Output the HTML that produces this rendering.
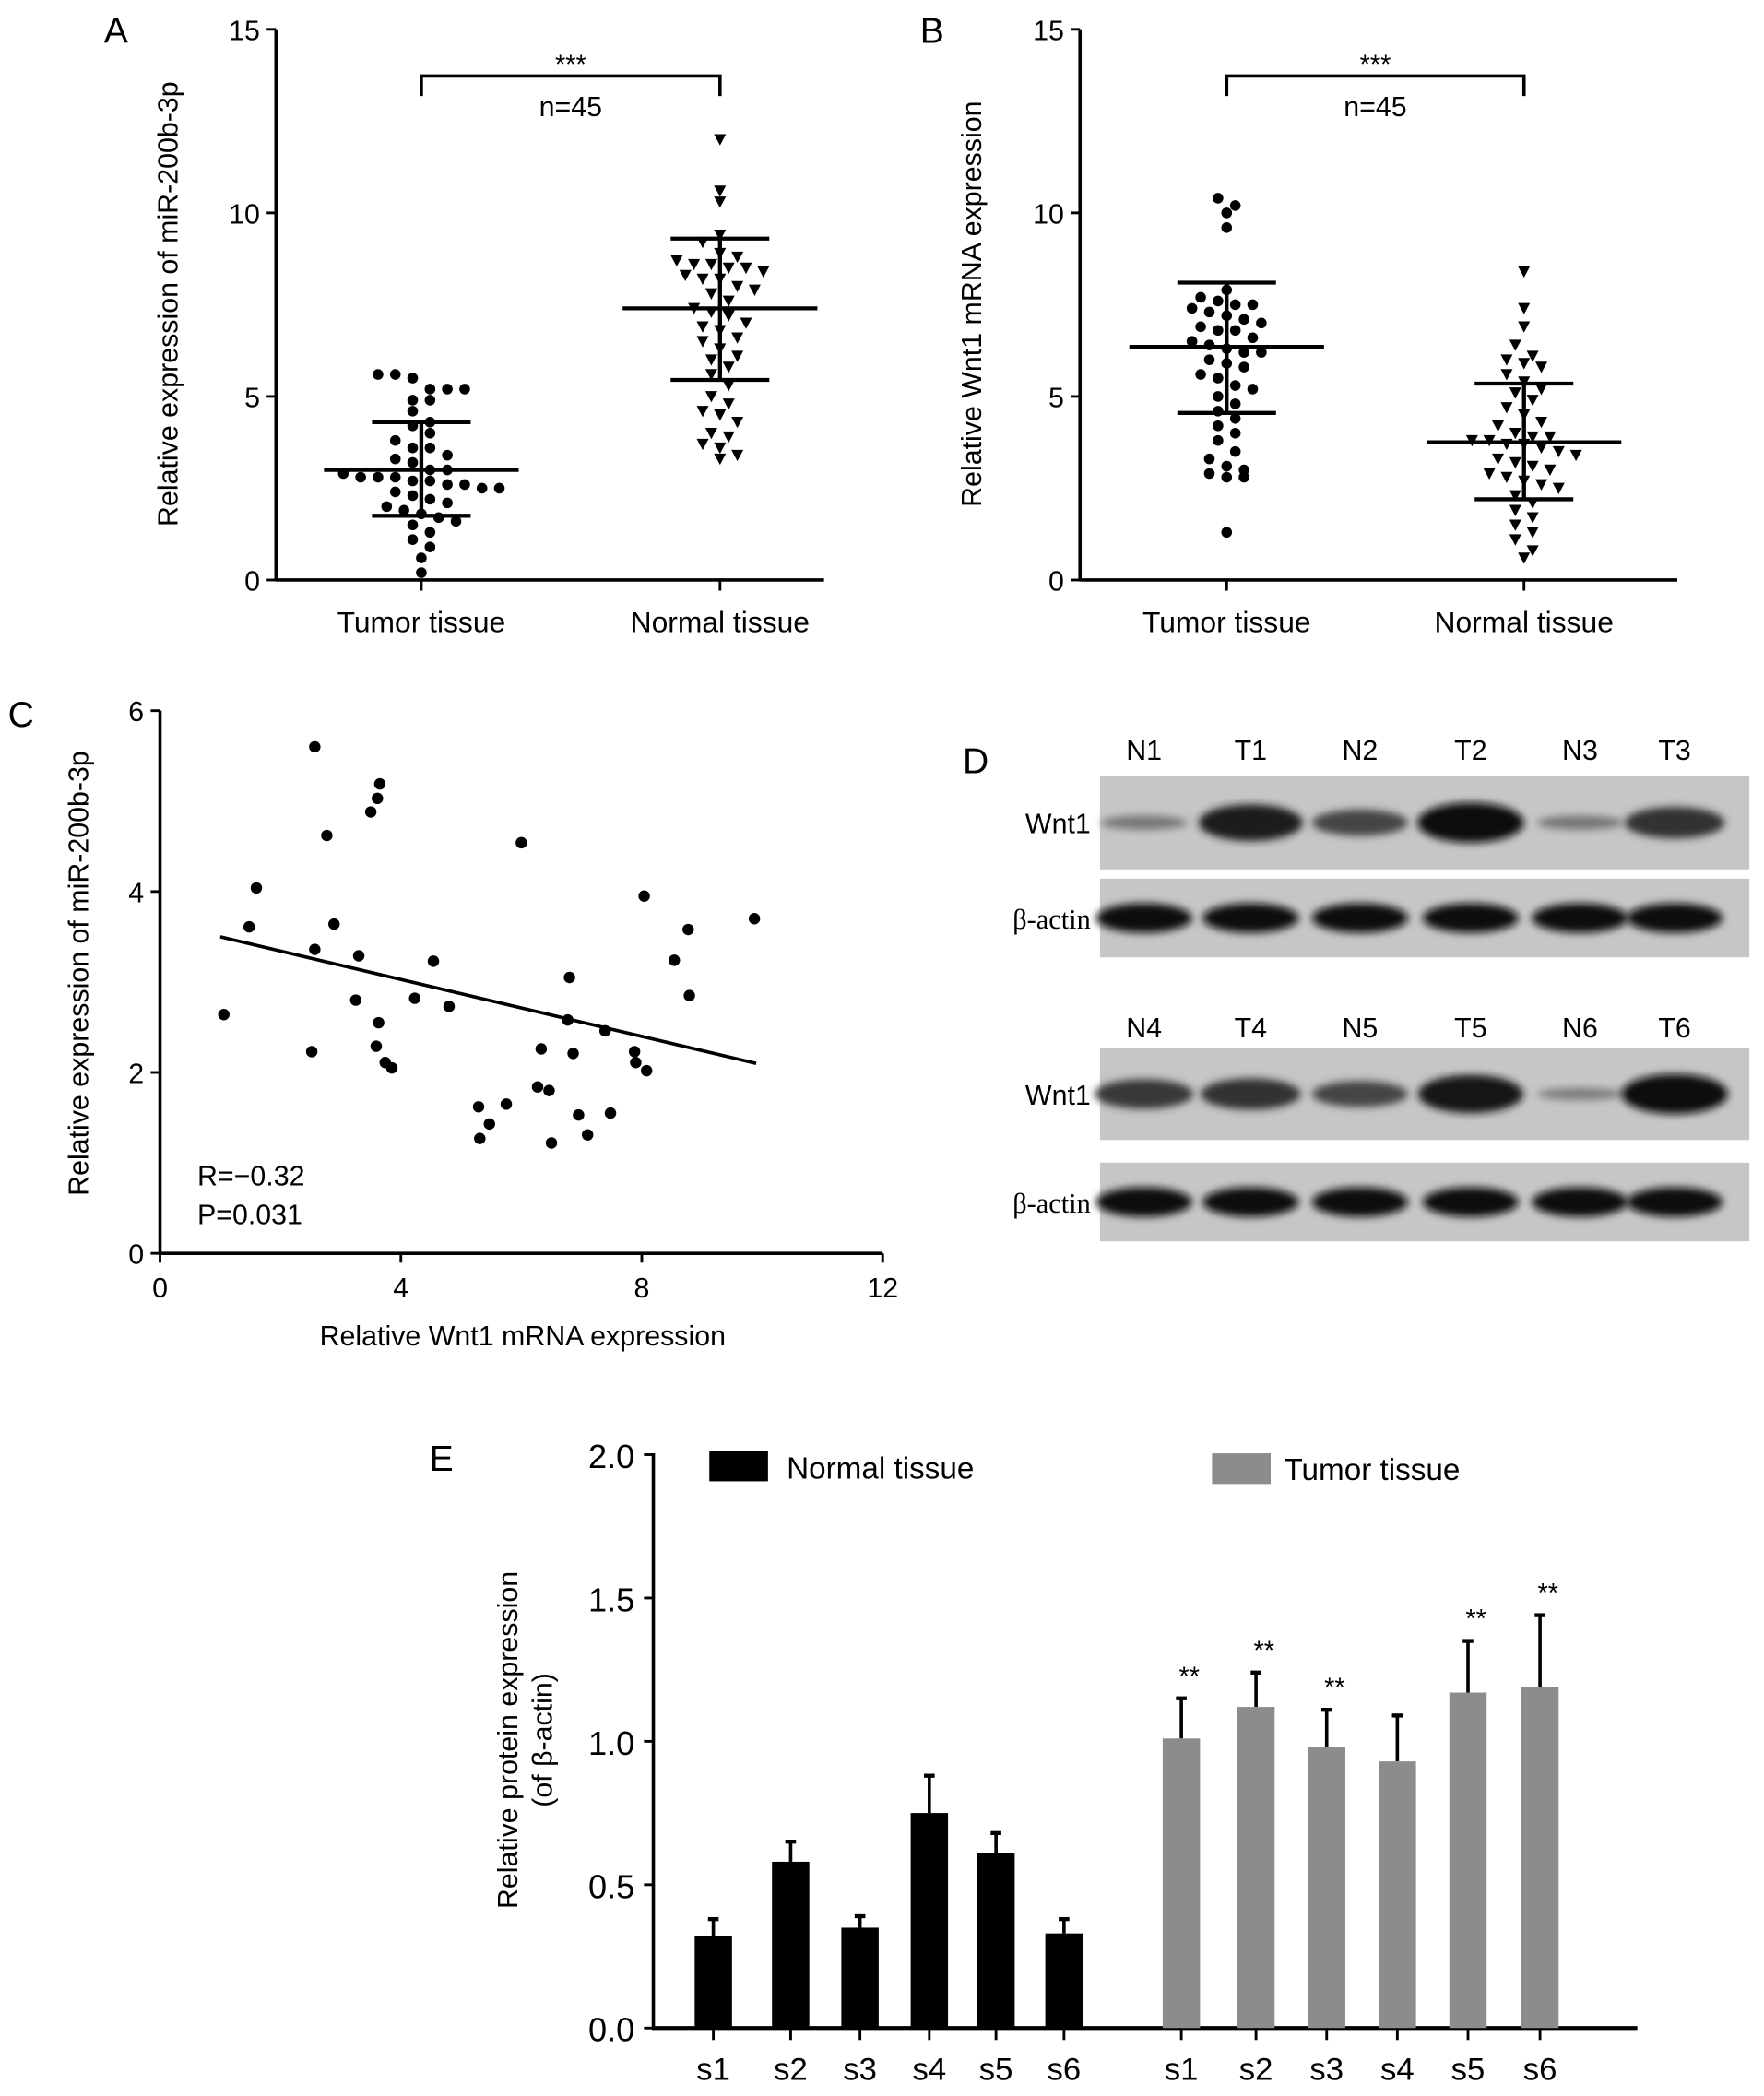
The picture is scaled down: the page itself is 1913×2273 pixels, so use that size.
<!DOCTYPE html>
<html><head><meta charset="utf-8"><style>
html,body{margin:0;padding:0;background:#fff;}
svg{display:block;font-family:"Liberation Sans",sans-serif;}
</style></head><body>
<svg id="fig" width="1913" height="2273" viewBox="0 0 1323 1572" preserveAspectRatio="none">
<defs><filter id="blur" x="-20%" y="-50%" width="140%" height="200%"><feGaussianBlur stdDeviation="3"/></filter></defs>
<g id="A"></g>
<g id="B"></g>
<g id="C"></g>
<g id="D"></g>
<g id="E"></g>
</svg>
<script>
// ---------- data ----------
const aTumor=[5.6,5.6,5.5,5.2,5.2,5.2,4.9,4.9,4.6,4.3,4.2,4.0,3.8,3.6,3.6,3.4,3.3,3.2,3.0,3.0,2.9,2.8,2.8,2.8,2.7,2.7,2.6,2.6,2.5,2.5,2.4,2.3,2.2,2.1,2.0,1.9,1.8,1.7,1.6,1.5,1.3,1.1,0.9,0.6,0.2];
const aNormal=[12.0,10.6,10.3,9.4,9.2,8.9,8.8,8.7,8.6,8.6,8.5,8.5,8.4,8.3,8.2,8.2,8.0,7.9,7.8,7.6,7.4,7.3,7.2,7.0,6.9,6.8,6.6,6.5,6.3,6.1,6.0,5.8,5.6,5.3,5.0,4.8,4.6,4.5,4.3,4.0,3.9,3.7,3.6,3.4,3.3];
const aStats=[[3.0,4.3,1.75],[7.4,9.3,5.45]];
const bTumor=[10.4,10.2,10.0,9.6,7.9,7.7,7.6,7.5,7.5,7.4,7.3,7.2,7.1,7.0,6.9,6.8,6.8,6.6,6.5,6.4,6.3,6.2,6.2,6.0,5.9,5.8,5.6,5.5,5.3,5.2,5.0,4.8,4.6,4.4,4.2,4.0,3.8,3.5,3.3,3.1,3.0,2.9,2.8,2.8,1.3];
const bNormal=[8.4,7.4,6.9,6.4,6.1,6.0,5.9,5.8,5.6,5.4,5.2,5.1,4.9,4.7,4.5,4.3,4.2,4.0,3.9,3.9,3.8,3.8,3.7,3.7,3.6,3.5,3.4,3.3,3.2,3.1,3.0,2.9,2.8,2.7,2.6,2.5,2.3,2.1,1.9,1.7,1.5,1.3,1.1,0.8,0.6];
const bStats=[[6.35,8.1,4.55],[3.75,5.35,2.2]];
const groupLabels=["Tumor tissue","Normal tissue"];
const yTicksAB=[0,5,10,15];
const cX=[1.06,1.6,1.48,2.57,2.77,2.57,2.89,2.52,3.5,3.61,3.65,3.3,3.25,3.63,3.59,3.74,3.85,4.23,4.54,4.8,6.0,5.75,5.29,5.47,5.31,6.27,6.33,6.46,6.5,6.8,6.77,6.86,6.95,7.1,7.48,7.39,7.88,7.9,8.08,8.04,8.54,8.77,8.79,9.87];
const cY=[2.64,4.04,3.61,5.6,4.62,3.36,3.64,2.23,4.88,5.03,5.19,3.29,2.8,2.55,2.29,2.11,2.05,2.82,3.23,2.73,4.54,1.65,1.62,1.43,1.27,1.84,2.26,1.8,1.22,3.05,2.58,2.21,1.53,1.31,1.55,2.46,2.23,2.11,2.02,3.95,3.24,3.58,2.85,3.7];
const cFit=[[1.0,3.5],[9.9,2.1]];
const cXTicks=[0,4,8,12];
const cYTicks=[0,2,4,6];
const eCats=["s1","s2","s3","s4","s5","s6"];
const eNormal=[0.32,0.58,0.35,0.75,0.61,0.33];
const eNormalErr=[0.06,0.07,0.04,0.13,0.07,0.05];
const eTumor=[1.01,1.12,0.98,0.93,1.17,1.19];
const eTumorErr=[0.14,0.12,0.13,0.16,0.18,0.25];
const eSig=[true,true,true,false,true,true];
const eYTicks=[0,0.5,1.0,1.5,2.0];
const blotLanes=["N1","T1","N2","T2","N3","T3"];
const blotLanes2=["N4","T4","N5","T5","N6","T6"];
const wnt1A=[0.25,0.9,0.6,1.0,0.25,0.75];
const wnt1B=[0.7,0.75,0.6,0.95,0.2,1.0];
const NS="http://www.w3.org/2000/svg";
function mk(p,tag,attrs,text){const e=document.createElementNS(NS,tag);for(const k in attrs)e.setAttribute(k,attrs[k]);if(text!==undefined)e.textContent=text;p.appendChild(e);return e;}

// ---------- scatter panels A/B ----------
function dotPanel(g,letter,lx,ax,xEnd,catX,series,stats,title,tri){
  const y=v=>435-v*(413/15);
  let e;
  e=mk(g,'text',{x:lx,y:32,'font-size':27},letter);
  
  
  e=mk(g,'line',{x1:ax,y1:22,x2:ax,y2:436,stroke:'#000','stroke-width':2.5});
  
  
  e=mk(g,'line',{x1:ax,y1:435,x2:xEnd,y2:435,stroke:'#000','stroke-width':2.5});
  
  
  yTicksAB.forEach(t=>{
    e=mk(g,'line',{x1:ax-7,y1:y(t),x2:ax,y2:y(t),stroke:'#000','stroke-width':2});
    
    
    e=mk(g,'text',{x:ax-12,y:y(t)+8,'font-size':21,'text-anchor':'end'},t);
    
    
  });
  e=mk(g,'text',{transform:`translate(${ax-74},228) rotate(-90)`,'font-size':21,'text-anchor':'middle'},title);
  
  
  catX.forEach((cx,i)=>{
    e=mk(g,'line',{x1:cx,y1:435,x2:cx,y2:443,stroke:'#000','stroke-width':2});
    
    
    e=mk(g,'text',{x:cx,y:474,'font-size':22,'text-anchor':'middle'},groupLabels[i]);
    
    
    const vals=series[i];const bins={};
    vals.forEach(v=>{const k=Math.round(v/0.45);(bins[k]=bins[k]||[]).push(v);});
    Object.keys(bins).forEach(k=>{
      const arr=bins[k];arr.forEach((v,j)=>{
        const off=(j-(arr.length-1)/2)*13;
        const px=cx+off,py=y(v);
        if(tri[i]) e=mk(g,'path',{d:`M${px-4.5},${py-4} L${px+4.5},${py-4} L${px},${py+4.5}Z`,fill:'#000'});
        else e=mk(g,'circle',{cx:px,cy:py,r:4,fill:'#000'});
        
        
      });
    });
    const [m,hi,lo]=stats[i];
    e=mk(g,'line',{x1:cx-73,y1:y(m),x2:cx+73,y2:y(m),stroke:'#000','stroke-width':3});
    
    
    e=mk(g,'line',{x1:cx,y1:y(hi),x2:cx,y2:y(lo),stroke:'#000','stroke-width':3});
    
    
    [hi,lo].forEach(v=>{
      e=mk(g,'line',{x1:cx-37,y1:y(v),x2:cx+37,y2:y(v),stroke:'#000','stroke-width':3});
      
      
    });
  });
  e=mk(g,'path',{d:`M${catX[0]},72 V57 H${catX[1]} V72`,fill:'none',stroke:'#000','stroke-width':2.5});
  
  
  const mid=(catX[0]+catX[1])/2;
  e=mk(g,'text',{x:mid,y:55,'font-size':20,'text-anchor':'middle'},'***');
  
  
  e=mk(g,'text',{x:mid,y:87,'font-size':21,'text-anchor':'middle'},'n=45');
  
  
}
dotPanel(document.getElementById('A'),'A',78,207,618,[316,540],[aTumor,aNormal],aStats,'Relative expression of miR-200b-3p',[false,true]);
dotPanel(document.getElementById('B'),'B',690,810,1258,[920,1143],[bTumor,bNormal],bStats,'Relative Wnt1 mRNA expression',[false,true]);

// ---------- panel C ----------
(function(){
  const g=document.getElementById('C');let e;
  const x=v=>120+v*(542/12), y=v=>940-v*(407/6);
  e=mk(g,'text',{x:6,y:545,'font-size':27},'C');
  
  
  e=mk(g,'line',{x1:120,y1:533,x2:120,y2:941,stroke:'#000','stroke-width':2.5});
  
  
  e=mk(g,'line',{x1:119,y1:940,x2:662,y2:940,stroke:'#000','stroke-width':2.5});
  
  
  cYTicks.forEach(t=>{
    e=mk(g,'line',{x1:113,y1:y(t),x2:120,y2:y(t),stroke:'#000','stroke-width':2});
    
    
    e=mk(g,'text',{x:108,y:y(t)+8,'font-size':21,'text-anchor':'end'},t);
    
    
  });
  cXTicks.forEach(t=>{
    e=mk(g,'line',{x1:x(t),y1:940,x2:x(t),y2:947,stroke:'#000','stroke-width':2});
    
    
    e=mk(g,'text',{x:x(t),y:973,'font-size':21,'text-anchor':'middle'},t);
    
    
  });
  e=mk(g,'text',{x:392,y:1009,'font-size':21,'text-anchor':'middle'},'Relative Wnt1 mRNA expression');
  
  
  e=mk(g,'text',{transform:'translate(66,730) rotate(-90)','font-size':21,'text-anchor':'middle'},'Relative expression of miR-200b-3p');
  
  
  cX.forEach((v,i)=>{
    e=mk(g,'circle',{cx:x(v),cy:y(cY[i]),r:4.3,fill:'#000'});
    
    
  });
  e=mk(g,'line',{x1:x(cFit[0][0]),y1:y(cFit[0][1]),x2:x(cFit[1][0]),y2:y(cFit[1][1]),stroke:'#000','stroke-width':2.5});
  
  
  e=mk(g,'text',{x:148,y:889,'font-size':21},'R=−0.32');
  
  
  e=mk(g,'text',{x:148,y:918,'font-size':21},'P=0.031');
  
  
})();

// ---------- panel D ----------
(function(){
  const g=document.getElementById('D');let e;
  const laneX=[858,938,1020,1103,1185,1256];
  e=mk(g,'text',{x:722,y:580,'font-size':27},'D');
  
  
  function labels(arr,yy){arr.forEach((t,i)=>{
    e=mk(g,'text',{x:laneX[i],y:yy,'font-size':21,'text-anchor':'middle'},t);
    
    
  });}
  function strip(y0,h,name,intens,isActin){
    e=mk(g,'rect',{x:825,y:y0,width:487,height:h,fill:'#c6c6c6'});
    
    
    e=mk(g,'text',{x:818,y:y0+h/2+8,'font-size':21,'text-anchor':'end','font-family':isActin?'"Liberation Serif",serif':'"Liberation Sans",sans-serif'},name);
    
    
    intens.forEach((v,i)=>{
      const rx=isActin?36:30+v*10, ry=isActin?11:2+v*13;
      const shade=Math.round(150-v*135);
      e=mk(g,'ellipse',{cx:laneX[i],cy:y0+h/2,rx:rx,ry:ry,fill:`rgb(${shade},${shade},${shade})`,filter:'url(#blur)'});
      
      
    });
  }
  labels(blotLanes,570);
  strip(582,70,'Wnt1',wnt1A,false);
  strip(659,59,'β-actin',[1,1,1,1,1,1],true);
  labels(blotLanes2,778);
  strip(786,69,'Wnt1',wnt1B,false);
  strip(872,59,'β-actin',[1,1,1,1,1,1],true);
})();

// ---------- panel E ----------
(function(){
  const g=document.getElementById('E');let e;
  const y=v=>1521-v*215;
  const nX=[535,593,645,697,747,798], tX=[886,942,995,1048,1101,1155], bw=28;
  e=mk(g,'text',{x:322,y:1103,'font-size':27},'E');
  
  
  e=mk(g,'line',{x1:490,y1:1090,x2:490,y2:1522,stroke:'#000','stroke-width':2.5});
  
  
  e=mk(g,'line',{x1:489,y1:1521,x2:1228,y2:1521,stroke:'#000','stroke-width':3});
  
  
  eYTicks.forEach(t=>{
    e=mk(g,'line',{x1:483,y1:y(t),x2:490,y2:y(t),stroke:'#000','stroke-width':2});
    
    
    e=mk(g,'text',{x:476,y:y(t)+10,'font-size':25,'text-anchor':'end'},t.toFixed(1));
    
    
  });
  e=mk(g,'text',{transform:'translate(388,1305) rotate(-90)','font-size':21,'text-anchor':'middle'},'Relative  protein expression');
  
  
  e=mk(g,'text',{transform:'translate(414,1305) rotate(-90)','font-size':21,'text-anchor':'middle'},'(of β-actin)');
  
  
  function bars(xs,vals,errs,color,name){
    vals.forEach((v,i)=>{
      const cx=xs[i];
      e=mk(g,'line',{x1:cx,y1:y(v),x2:cx,y2:y(v+errs[i]),stroke:'#000','stroke-width':2.5});
      
      
      e=mk(g,'line',{x1:cx-4,y1:y(v+errs[i]),x2:cx+4,y2:y(v+errs[i]),stroke:'#000','stroke-width':3});
      
      
      e=mk(g,'rect',{x:cx-bw/2,y:y(v),width:bw,height:y(0)-y(v),fill:color});
      
      
      e=mk(g,'line',{x1:cx,y1:1521,x2:cx,y2:1530,stroke:'#000','stroke-width':2});
      
      
      e=mk(g,'text',{x:cx,y:1560,'font-size':24,'text-anchor':'middle'},eCats[i]);
      
      
    });
  }
  bars(nX,eNormal,eNormalErr,'#000','normal');
  bars(tX,eTumor,eTumorErr,'#8c8c8c','tumor');
  eTumor.forEach((v,i)=>{ if(!eSig[i])return;
    e=mk(g,'text',{x:tX[i]+6,y:y(v+eTumorErr[i])-10,'font-size':20,'text-anchor':'middle'},'**');
    
    
  });
  e=mk(g,'rect',{x:532,y:1088,width:44,height:23,fill:'#000'});
  
  
  e=mk(g,'text',{x:590,y:1109,'font-size':23},'Normal tissue');
  
  
  e=mk(g,'rect',{x:909,y:1090,width:44,height:23,fill:'#8c8c8c'});
  
  
  e=mk(g,'text',{x:963,y:1110,'font-size':23},'Tumor tissue');
  
  
})();
</script>
</body></html>
